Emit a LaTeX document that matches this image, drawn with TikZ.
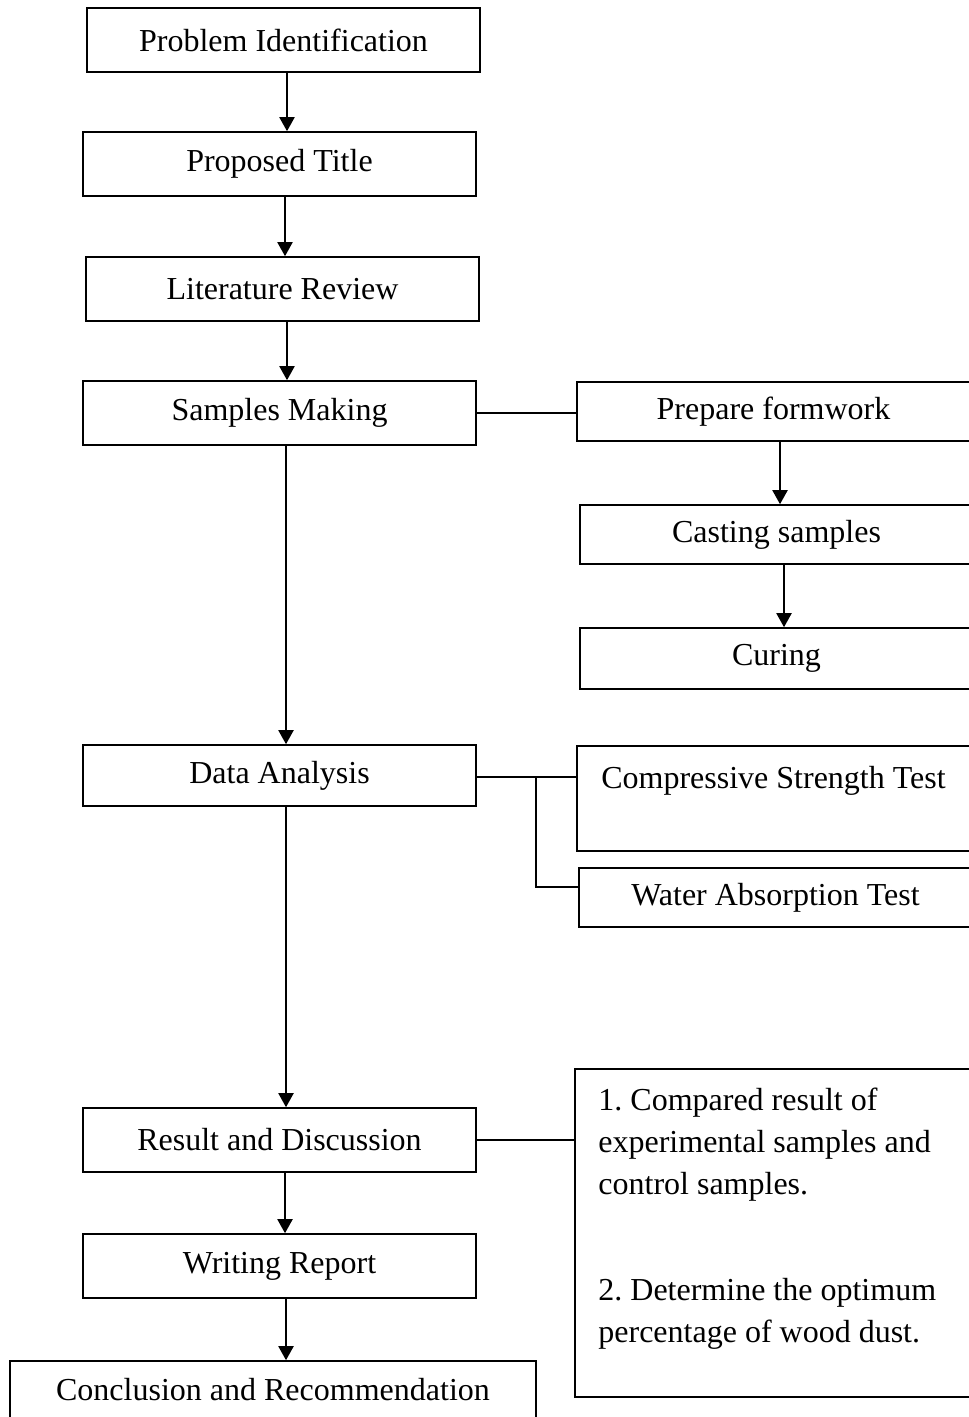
\documentclass[tikz,border=0pt]{standalone}
\usepackage{fontspec}
\setmainfont{Liberation Serif}
\usetikzlibrary{arrows.meta}
\frenchspacing

\begin{document}
\begin{tikzpicture}[x=0.5pt,y=-0.5pt,
	main_node/.style={rectangle,draw,line width=0.8pt,minimum width=196.5pt,minimum height=32pt,inner sep=0pt,align=center,font=\fontsize{16}{21}\selectfont},
	flow/.style={line width=1pt,-{Triangle[length=7pt,width=7.5pt]}},
	link/.style={line width=0.6pt}]
	\useasboundingbox (0,0) rectangle (968,1417);
	% main column
	\node[main_node](1) at (283.5,40){Problem Identification};
	\node[main_node](2) at (279.5,164){Proposed Title};
	\node[main_node](3) at (282.5,289){Literature Review};
	\node[main_node](4) at (279.5,413){Samples Making};
	\node[main_node, minimum height=30.5pt](8) at (279.5,775.5){Data Analysis};
	\node[main_node](11) at (279.5,1140){Result and Discussion};
	\node[main_node](13) at (279.5,1266){Writing Report};
	\node[main_node, minimum width=263pt, minimum height=29pt](14) at (273,1390){Conclusion and Recommendation};
	% right column
	\node[main_node, minimum height=29.5pt](5) at (773.5,411.5){Prepare formwork};
	\node[main_node, minimum height=29.5pt](6) at (776.5,534.5){Casting samples};
	\node[main_node, minimum height=30.5pt](7) at (776.5,658.5){Curing};
	\node[main_node, minimum height=52.5pt](9) at (773.5,798.5){Compressive Strength Test\\ ~};
	\node[main_node, minimum height=29.5pt](10) at (775.5,897.5){Water Absorption Test};
	\node[main_node, minimum width=200pt, minimum height=164pt](12) at (775,1233){};
	\node[anchor=north west, inner sep=0pt, align=left, font=\fontsize{16}{21}\selectfont](12t) at (598,1088){1. Compared result of\\ experimental samples and\\ control samples.\\[32pt] 2. Determine the optimum\\ percentage of wood dust.};
	\coordinate (j) at (536,777);
	\path[flow]
	(1.south -| 287,0) edge (2.north -| 287,0)
	(2.south -| 285,0) edge (3.north -| 285,0)
	(3.south -| 287,0) edge (4.north -| 287,0)
	(4.south -| 286,0) edge (8.north -| 286,0)
	(8.south -| 286,0) edge (11.north -| 286,0)
	(11.south -| 285,0) edge (13.north -| 285,0)
	(13.south -| 286,0) edge (14.north -| 286,0)
	(5.south -| 780,0) edge (6.north -| 780,0)
	(6.south -| 784,0) edge (7.north -| 784,0);
	\draw[link] (4.east) -- (5.west |- 4.east);
	\draw[line width=1pt] (8.east |- j) -- (j);
	\draw[link] (j) -- (9.west |- j);
	\draw[link] (j) |- (10.west |- 0,887);
	\draw[link] (11.east) -- (12.west |- 11.east);
\end{tikzpicture}
\end{document}
